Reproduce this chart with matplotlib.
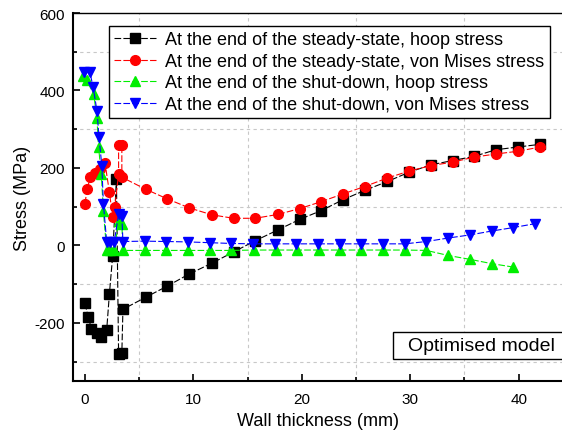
import matplotlib.pyplot as plt
from matplotlib.patches import Rectangle
import numpy as np

plt.rcParams['font.family'] = ['Liberation Sans', 'DejaVu Sans']
plt.rcParams['axes.unicode_minus'] = False

# steady-state, hoop stress
x_ss_hoop = [0, 0.3, 0.6, 1.1, 1.5, 2.0, 2.25, 2.55, 2.9, 3.1, 3.4, 3.5,
             5.6, 7.6, 9.6, 11.7, 13.7, 15.7, 17.8, 19.8, 21.8, 23.8, 25.8,
             27.9, 29.9, 31.9, 33.9, 35.9, 37.9, 39.9, 42.0]
y_ss_hoop = [-149, -186, -215, -227, -237, -219, -126, -28, 172, -280, -278, -165,
             -134, -105, -74, -46, -17, 12, 40, 67, 90, 118, 142,
             165, 189, 208, 219, 230, 247, 254, 261]

# steady-state, von Mises stress
x_ss_vm = [0, 0.2, 0.5, 0.9, 1.35, 1.85, 2.25, 2.55, 2.75, 3.1, 3.1, 3.4, 3.4,
           5.6, 7.6, 9.6, 11.7, 13.7, 15.7, 17.8, 19.8, 21.8, 23.8, 25.8,
           27.9, 29.9, 31.9, 33.9, 35.9, 37.9, 39.9, 42.0]
y_ss_vm = [108, 146, 176, 187, 197, 212, 138, 73, 99, 185, 258, 258, 176,
           145, 120, 97, 79, 70, 70, 80, 95, 113, 133, 152,
           174, 192, 206, 215, 228, 236, 243, 254]

# shut-down, hoop stress
x_sd_hoop = [-0.15, 0.15, 0.8, 1.1, 1.25, 1.5, 1.7, 2.0, 2.3, 2.7, 3.1, 3.4, 3.5,
             5.5, 7.5, 9.5, 11.5, 13.5, 15.6, 17.6, 19.6, 21.6, 23.5, 25.5,
             27.5, 29.5, 31.5, 33.5, 35.5, 37.5, 39.5]
y_sd_hoop = [437, 426, 391, 330, 254, 185, 88, -13, -13, -13, 62, 56, -13,
             -13, -13, -13, -13, -13, -12, -12, -12, -12, -12, -12,
             -12, -12, -13, -26, -36, -47, -56]

# shut-down, von Mises stress
x_sd_vm = [-0.1, 0.45, 0.75, 1.1, 1.3, 1.55, 1.7, 2.0, 2.3, 2.7, 3.1, 3.4, 3.5,
           5.5, 7.5, 9.5, 11.5, 13.5, 15.5, 17.5, 19.5, 21.5, 23.5, 25.5,
           27.5, 29.5, 31.5, 33.5, 35.5, 37.5, 39.5, 41.5]
y_sd_vm = [447, 447, 409, 348, 279, 206, 107, 10, 10, 10, 80, 75, 10,
           11, 10, 9, 7, 5, 4, 4, 4, 4, 4, 4,
           4, 4, 10, 19, 27, 37, 46, 56]

labels = ['At the end of the steady-state, hoop stress',
          'At the end of the steady-state, von Mises stress',
          'At the end of the shut-down, hoop stress',
          'At the end of the shut-down, von Mises stress']

fig = plt.figure(figsize=(5.62, 4.39), dpi=100)
ax = fig.add_axes([0.130, 0.130, 0.870, 0.838])

ls = (0, (6, 2))
ax.plot(x_ss_hoop, y_ss_hoop, color='black', ls=ls, lw=0.8, marker='s', ms=6.5, label=labels[0])
ax.plot(x_ss_vm, y_ss_vm, color='red', ls=ls, lw=0.8, marker='o', ms=7, label=labels[1])
ax.plot(x_sd_hoop, y_sd_hoop, color='#00ee00', ls=ls, lw=0.8, marker='^', ms=7.5, label=labels[2])
ax.plot(x_sd_vm, y_sd_vm, color='blue', ls=ls, lw=0.8, marker='v', ms=7.5, label=labels[3])

ax.set_xlim(-1.1, 44.0)
ax.set_ylim(-350, 600)
ax.set_xticks([0, 10, 20, 30, 40])
ax.set_xticks([5, 15, 25, 35], minor=True)
ax.set_yticks([-200, 0, 200, 400, 600])
ax.set_yticks([-300, -100, 100, 300, 500], minor=True)
ax.grid(which='minor', color='#c8c8c8', ls=(0, (3, 3)), lw=0.8)
ax.tick_params(which='major', direction='in', length=5, width=1.2, labelsize=11, colors='black')
ax.tick_params(which='minor', direction='in', length=3, width=1.2)
ax.tick_params(axis='y', pad=6)
ax.tick_params(axis='x', pad=8)

for s in ['left', 'bottom']:
    ax.spines[s].set_linewidth(1.5)
ax.spines['top'].set_linewidth(1.0)
ax.spines['right'].set_visible(False)

ax.set_xlabel('Wall thickness (mm)', fontsize=13)
ax.set_ylabel('Stress (MPa)', fontsize=13, labelpad=2)

leg = ax.legend(loc='upper left', bbox_to_anchor=(0.0736, 0.965), fontsize=13,
                frameon=True, fancybox=False, edgecolor='black', framealpha=1,
                handlelength=2.3, handletextpad=0.5, borderaxespad=0,
                labelspacing=0.25, borderpad=0.3)
leg.get_frame().set_linewidth(1.0)

ax.add_patch(Rectangle((0.654, 0.06), 0.40, 0.073, transform=ax.transAxes,
                       facecolor='white', edgecolor='black', lw=1.0,
                       clip_on=False, zorder=5))
ax.text(0.685, 0.0965, 'Optimised model', transform=ax.transAxes, fontsize=14,
        ha='left', va='center', zorder=6)

fig.savefig('out.png', dpi=100)
